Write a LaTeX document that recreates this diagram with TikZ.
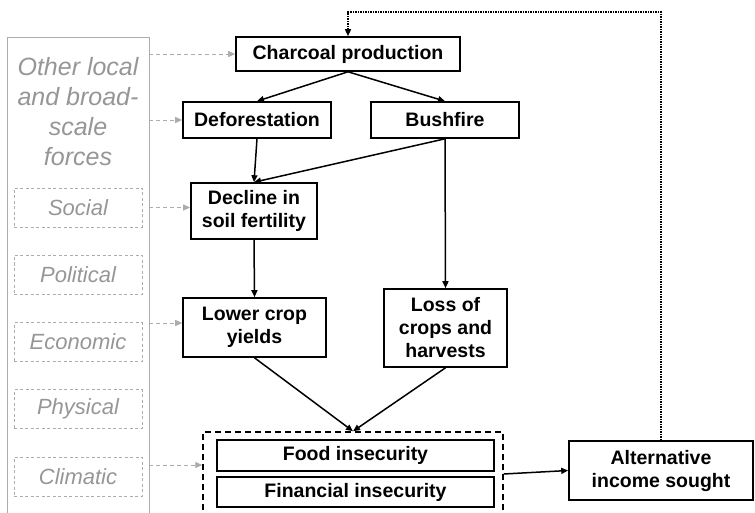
\documentclass[tikz,border=0pt]{standalone}
\usepackage{fontspec}
\setmainfont{Liberation Sans}
\usetikzlibrary{arrows.meta}
\definecolor{forcegray}{RGB}{150,150,150}
\definecolor{framegray}{RGB}{172,172,172}
\tikzset{
 box/.style={draw, line width=1.6pt, inner sep=0pt, align=center,
  font=\fontsize{19.5}{23}\selectfont\bfseries},
 factor/.style={draw=framegray, dash pattern=on 3pt off 2.5pt, line width=.9pt, inner sep=0pt,
  minimum width=128pt, minimum height=39pt, text=forcegray,
  font=\fontsize{22}{26}\selectfont\itshape},
 cause/.style={-{Triangle[length=7pt,width=6pt]}, line width=1.5pt},
 other/.style={-{Triangle[length=7pt,width=6pt]}, draw=framegray, dash pattern=on 4pt off 3pt, line width=.9pt}
}
\begin{document}
\begin{tikzpicture}[x=1pt,y=-1pt]
\path[use as bounding box, clip] (0,0) rectangle (755,513);
\node[draw=framegray, line width=.9pt, minimum width=142pt, minimum height=503pt] (forces) at (78,288.5) {};
\node[text=forcegray, align=center, font=\fontsize{25}{30}\selectfont\itshape] (forcetext) at (78,112)
 {Other local\\and broad-\\scale\\forces};
\foreach \f/\y in {Social/207.5, Political/274.5, Economic/342, Physical/409, Climatic/476.5}
\node[factor] (\f) at (78,\y) {\f};
\node[box, minimum width=224pt, minimum height=34pt] (charcoal) at (348,54) {Charcoal production};
\node[box, minimum width=148pt, minimum height=36pt] (defor) at (257,120) {Deforestation};
\node[box, minimum width=148pt, minimum height=36pt] (bush) at (445,120) {Bushfire};
\node[box, minimum width=126pt, minimum height=56pt] (soil) at (254,211) {Decline in\\soil fertility};
\node[box, minimum width=143pt, minimum height=59pt] (yield) at (254.5,327.5) {Lower crop\\yields};
\node[box, minimum width=123pt, minimum height=78pt] (loss) at (445.5,328) {Loss of\\crops and\\harvests};
\node[draw, line width=1.5pt, dash pattern=on 6pt off 4pt, minimum width=300pt, minimum height=98pt] (group) at (353,481) {};
\node[box, minimum width=277pt, minimum height=31pt] (food) at (355.5,455.5) {Food insecurity};
\node[box, minimum width=277pt, minimum height=30pt] (fin) at (355.5,492) {Financial insecurity};
\node[box, minimum width=184pt, minimum height=59pt] (alt) at (661,470.5) {Alternative\\income sought};
\draw[other] (forces.east |- charcoal) -- (charcoal);
\draw[other] (forces.east |- defor) -- (defor);
\draw[other] (forces.east |- Social) -- (soil.west |- Social);
\draw[other] (forces.east |- 0,323) -- (yield.west |- 0,323);
\draw[other] (forces.east |- 0,465) -- (group.west |- 0,465);
\draw[cause] (charcoal.south) -- (defor.north);
\draw[cause] (charcoal.south) -- (bush.north);
\draw[cause] (defor.south) -- (soil.north);
\draw[cause] (bush.south) -- (soil.north);
\draw[cause] (soil.south) -- (yield.north);
\draw[cause] (bush.south) -- (loss.north);
\draw[cause] (yield.south) -- (group.north);
\draw[cause] (loss.south) -- (group.north);
\draw[cause] (group.east |- 0,474) -- (alt.west);
\draw[cause, dash pattern=on 1.4pt off 1.1pt] (alt.north) -- (alt.north |- 0,12) -| (charcoal.north);
\end{tikzpicture}
\end{document}
